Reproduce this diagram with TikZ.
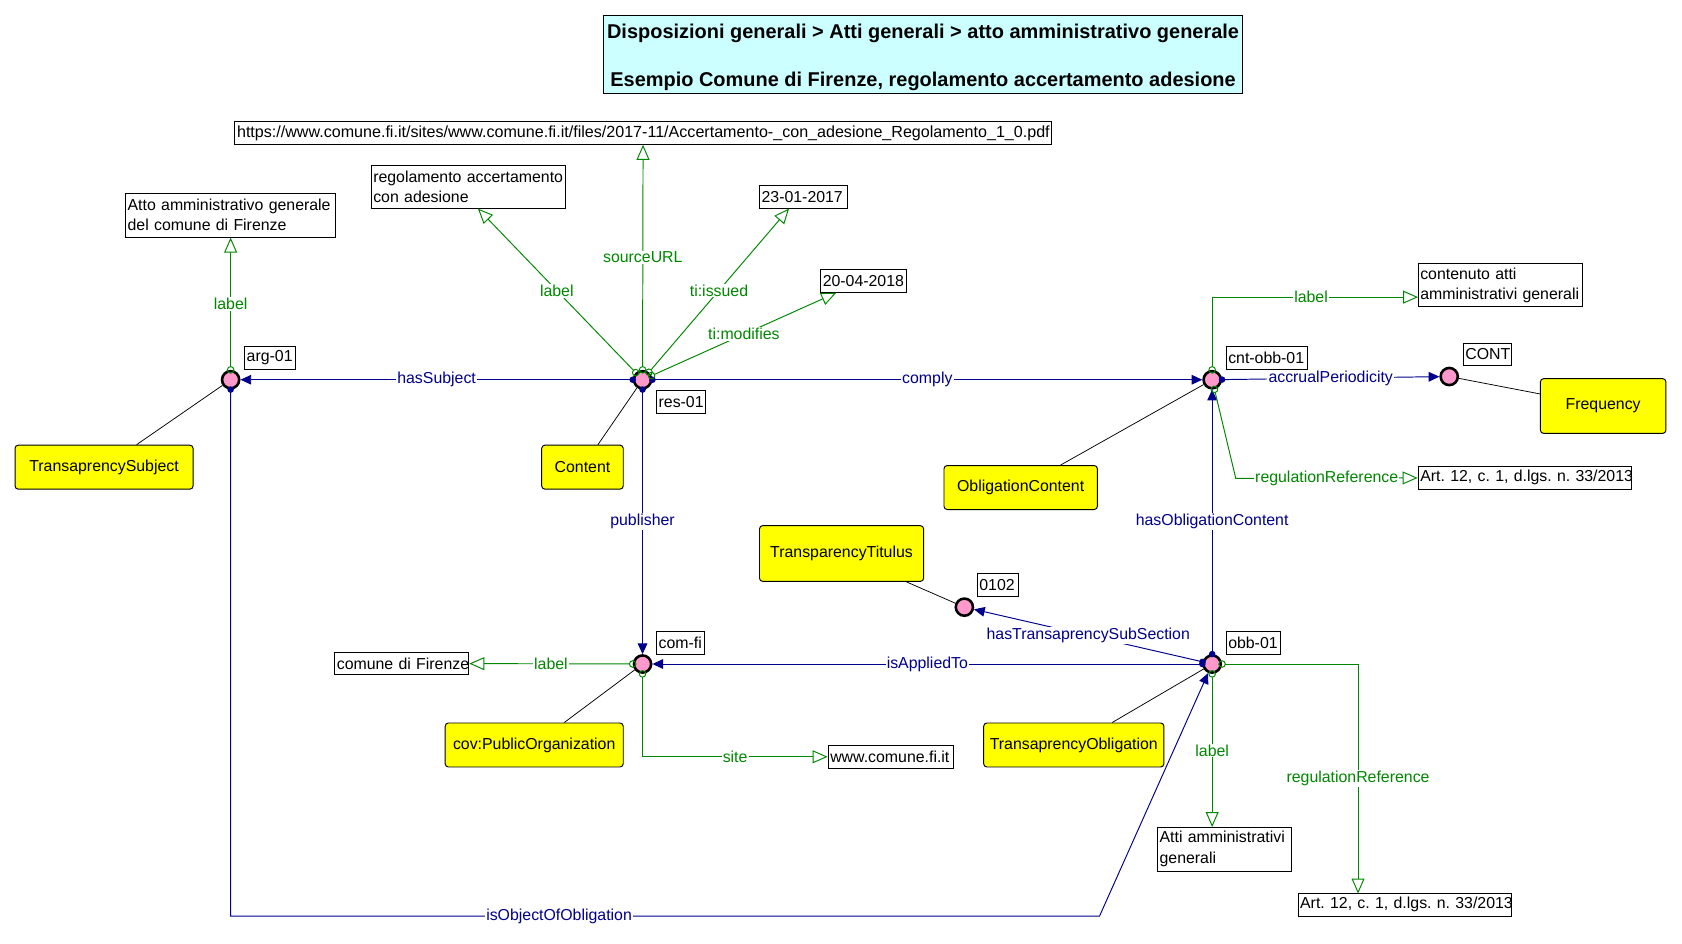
\documentclass[tikz,border=0pt]{standalone}
\usepackage{fontspec}
\setmainfont{Liberation Sans}
\usetikzlibrary{arrows.meta,calc}
\definecolor{navyb}{RGB}{0,0,140}
\definecolor{grn}{RGB}{0,135,0}
\definecolor{pinkn}{RGB}{255,153,204}
\definecolor{ylw}{RGB}{255,255,0}
\definecolor{cyanl}{RGB}{204,255,255}
\newcommand{\mb}[1]{\mbox{#1}}
\frenchspacing
\begin{document}
\begin{tikzpicture}[x=1pt,y=-1pt,
  every node/.style={font=\fontsize{14.8}{19}\selectfont\frenchspacing},
  res/.style={circle,draw=black,line width=2.4pt,fill=pinkn,minimum size=16pt,inner sep=0pt},
  cls/.style={draw=black,line width=0.9pt,fill=ylw,rounded corners=3pt,align=center,inner sep=0pt},
  lit/.style={draw=black,line width=0.9pt,fill=white,align=left,inner xsep=2pt,inner ysep=0pt,text width=#1,minimum height=21pt},
  rel/.style={draw=navyb,line width=0.9pt,{Circle[length=6pt]}-{Triangle[length=10pt,width=9pt]},shorten <=-3pt},
  prop/.style={draw=grn,line width=0.9pt,{Circle[open,length=7pt]}-{Triangle[open,length=14pt,width=12pt]},shorten <=-3.5pt},
  typ/.style={draw=black,line width=0.7pt},
  rlab/.style={text=navyb,fill=white,inner sep=1pt},
  plab/.style={text=grn,fill=white,inner sep=1pt},
  ttl/.style={font=\bfseries\fontsize{18.6}{22}\selectfont,anchor=base,inner sep=0pt},
]
\fill[white] (0,0) rectangle (1568,880);
\useasboundingbox (0,0) rectangle (1568,880);

% title
\node[draw=black,line width=0.9pt,fill=cyanl,minimum width=595pt,minimum height=73pt,inner sep=0pt] (title) at (860.5,50.5) {};
\node[ttl] (title1) at (860.5,35.5) {Disposizioni generali > Atti generali > atto amministrativo generale};
\node[ttl] (title2) at (860.5,81) {Esempio Comune di Firenze, regolamento accertamento adesione};

% resource circles
\node[res] (arg) at (215,354) {};
\node[res] (res) at (599,354) {};
\node[res] (cnt) at (1130,354) {};
\node[res] (cont) at (1351,351) {};
\node[res] (c0102) at (899,566) {};
\node[res] (comfi) at (599,619) {};
\node[res] (obb) at (1130,619) {};

% tags
\node[lit=43pt] (targ) at (251.5,333.5) {\mb{arg-01}};
\node[lit=42pt] (tres) at (635,374.5) {\mb{res-01}};
\node[lit=72pt] (tcnt) at (1181,333.5) {\mb{cnt-obb-01}};
\node[lit=41pt] (tcont) at (1386.5,330.5) {\mb{CONT}};
\node[lit=34pt] (t0102) at (930,545.5) {\mb{0102}};
\node[lit=41pt] (tcomfi) at (634.5,599.5) {\mb{com-fi}};
\node[lit=47pt] (tobb) at (1168.5,599.5) {\mb{obb-01}};

% literals
\node[lit=757pt,font=\fontsize{15}{19}\selectfont] (url) at (599.5,124) {\mb{https://www.comune.fi.it/sites/www.comune.fi.it/files/2017-11/Accertamento-\_con\_adesione\_Regolamento\_1\_0.pdf}};
\node[lit=177pt,minimum height=40pt] (regol) at (436.5,174) {\mb{regolamento accertamento}\\\mb{con adesione}};
\node[lit=192pt,minimum height=41pt] (atto) at (215,200.5) {\mb{Atto amministrativo generale}\\\mb{del comune di Firenze}};
\node[lit=78pt] (d2017) at (749,183.5) {\mb{23-01-2017}};
\node[lit=76pt] (d2018) at (805,262) {\mb{20-04-2018}};
\node[lit=149pt,minimum height=40pt] (contenuto) at (1398.5,266) {\mb{contenuto atti}\\\mb{amministrativi generali}};
\node[lit=195pt] (art1) at (1421.5,445.5) {\mb{Art. 12, c. 1, d.lgs. n. 33/2013}};
\node[lit=121pt] (comune) at (374.5,618.5) {\mb{comune di Firenze}};
\node[lit=113pt] (www) at (830.5,705.5) {\mb{www.comune.fi.it}};
\node[lit=121pt,minimum height=41pt] (atti) at (1141.5,791.5) {\mb{Atti amministrativi}\\\mb{generali}};
\node[lit=195pt] (art2) at (1309.5,843.5) {\mb{Art. 12, c. 1, d.lgs. n. 33/2013}};

% classes
\node[cls,minimum width=166pt,minimum height=41pt] (subj) at (97,435.5) {TransaprencySubject};
\node[cls,minimum width=76pt,minimum height=41pt] (content) at (543,435.5) {Content};
\node[cls,minimum width=143pt,minimum height=41pt] (oblc) at (951.5,454.5) {ObligationContent};
\node[cls,minimum width=117pt,minimum height=51pt] (freq) at (1494.5,378.5) {Frequency};
\node[cls,minimum width=153pt,minimum height=52pt] (titulus) at (784.5,516) {TransparencyTitulus};
\node[cls,minimum width=166pt,minimum height=41pt] (cov) at (498,694.5) {cov:PublicOrganization};
\node[cls,minimum width=168pt,minimum height=41pt] (tobl) at (1001,694.5) {TransaprencyObligation};

% free ends
\coordinate (regolE) at ($(regol.south west)+(100,0)$);
\coordinate (d2017E) at ($(d2017.south west)+(28,0)$);
\coordinate (d2018E) at ($(d2018.south west)+(15,0)$);
\coordinate (cw) at (1322,277);
\coordinate (rr1) at (1152,446);
\coordinate (r2) at (1266,833);
\coordinate (attiN) at (1130,771);
\coordinate (k1) at (1025,854);
\coordinate (k0) at (215,854);

% type lines
\draw[typ] (arg) -- (subj);
\draw[typ] (res) -- (content);
\draw[typ] (cnt) -- (oblc);
\draw[typ] (cont) -- (freq);
\draw[typ] (c0102) -- (titulus);
\draw[typ] (comfi) -- (cov);
\draw[typ] (obb) -- (tobl);

% object relations
\draw[rel] (res) -- node[rlab]{hasSubject} (arg);
\draw[rel] (res) -- node[rlab]{comply} (cnt);
\draw[rel] (res) -- node[rlab]{publisher} (comfi);
\draw[rel] (cnt) -- node[rlab]{accrualPeriodicity} (cont);
\draw[rel] (obb) -- node[rlab]{hasObligationContent} (cnt);
\draw[rel] (obb) -- node[rlab]{hasTransaprencySubSection} (c0102);
\draw[rel] (obb) -- node[rlab]{isAppliedTo} (comfi);
\draw[rel] (arg.south) -- (k0) -- node[rlab,pos=0.378]{isObjectOfObligation} (k1) -- (obb);

% data properties
\draw[prop] (arg) -- node[plab]{label} (atto);
\draw[prop] (res) -- node[plab]{label} (regolE);
\draw[prop] (res) -- node[plab]{sourceURL} (url);
\draw[prop] (res) -- node[plab]{ti:issued} (d2017E);
\draw[prop] (res) -- node[plab]{ti:modifies} (d2018E);
\draw[prop] (cnt.north) |- node[plab,pos=0.74]{label} (cw);
\draw[prop] (cnt) -- (rr1) -- node[plab]{regulationReference} (art1.west);
\draw[prop] (comfi) -- node[plab]{label} (comune);
\draw[prop] (comfi.south) |- node[plab,pos=0.75]{site} (www.west);
\draw[prop] (obb.south) -- node[plab]{label} (attiN);
\draw[prop] (obb.east) -| node[plab,pos=0.75]{regulationReference} (r2);
\end{tikzpicture}
\end{document}
